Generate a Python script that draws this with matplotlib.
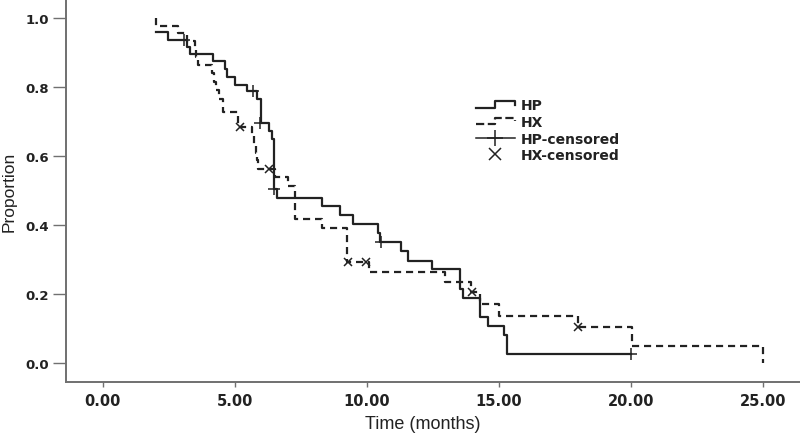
import numpy as np
import matplotlib
matplotlib.use('Agg')
import matplotlib.pyplot as plt
from matplotlib.lines import Line2D
from matplotlib.legend_handler import HandlerBase

# Kaplan-Meier steps (time in months, proportion after the step)
hp_time = [2.0, 2.47, 3.18, 3.3, 4.19, 4.63, 4.7, 5.02, 5.45, 5.83, 5.98, 6.3, 6.42, 6.5, 6.59,
           8.3, 8.99, 9.49, 10.44, 10.5, 11.29, 11.58, 12.46, 13.53, 13.65, 14.29, 14.6, 15.2, 15.3, 20.0]
hp_surv = [0.959, 0.936, 0.915, 0.896, 0.874, 0.852, 0.828, 0.806, 0.789, 0.765, 0.697, 0.673, 0.649, 0.504, 0.478,
           0.454, 0.429, 0.403, 0.378, 0.352, 0.324, 0.297, 0.272, 0.214, 0.188, 0.132, 0.106, 0.081, 0.026, 0.026]

hx_time = [2.0, 2.03, 2.86, 3.2, 3.5, 3.53, 3.6, 4.13, 4.22, 4.3, 4.4, 4.55, 5.13, 5.65, 5.72, 5.8, 5.86, 5.9,
           6.53, 7.0, 7.28, 8.3, 9.24, 10.08, 12.95, 13.95, 14.3, 15.0, 18.0, 20.04, 25.0]
hx_surv = [1.0, 0.978, 0.956, 0.934, 0.91, 0.887, 0.865, 0.84, 0.815, 0.79, 0.765, 0.727, 0.684, 0.66, 0.635, 0.61, 0.587, 0.562,
           0.538, 0.514, 0.417, 0.39, 0.294, 0.265, 0.236, 0.207, 0.171, 0.137, 0.103, 0.05, 0.0]

# censored observations
hp_cens_t = [3.08, 5.7, 5.96, 6.5, 10.54, 20.0]
hp_cens_s = [0.936, 0.789, 0.697, 0.504, 0.352, 0.026]
hx_cens_t = [5.2, 6.31, 9.3, 9.97, 13.98, 18.0]
hx_cens_s = [0.684, 0.562, 0.294, 0.294, 0.207, 0.103]

x_ticks = [0, 5, 10, 15, 20, 25]
y_ticks = [0.0, 0.2, 0.4, 0.6, 0.8, 1.0]

line_col = '#222222'
axis_col = '#707070'


class HandlerStep(HandlerBase):
    # legend glyph drawn as a little step, like SPSS does
    def create_artists(self, legend, orig_handle, xdescent, ydescent, width, height, fontsize, trans):
        x = np.array([0, 0.5, 0.5, 1.0, 1.0]) * width - xdescent
        y = np.array([0.15, 0.15, 0.85, 0.85, 0.45]) * height - ydescent
        l = Line2D(x, y, color=orig_handle.get_color(), linestyle=orig_handle.get_linestyle(),
                   linewidth=orig_handle.get_linewidth())
        l.set_transform(trans)
        return [l]


fig = plt.figure(figsize=(8.0, 4.39), dpi=100)
ax = fig.add_axes([66 / 800, 1 - 383.3 / 439, (800 - 66) / 800, 383.3 / 439])

hp_line, = ax.step(hp_time, hp_surv, where='post', color=line_col, lw=1.6, ls='-')
hx_line, = ax.step(hx_time, hx_surv, where='post', color=line_col, lw=1.6, ls=(0, (3.2, 2.2)))
hp_c, = ax.plot(hp_cens_t, hp_cens_s, ls='none', marker='+', ms=9, mew=1.1, color=line_col)
hx_c, = ax.plot(hx_cens_t, hx_cens_s, ls='none', marker='x', ms=6, mew=1.1, color=line_col)

ax.set_xlim(-1.39, 26.41)
ax.set_ylim(-0.056, 1.055)
ax.set_xticks(x_ticks)
ax.set_xticklabels(['{:.2f}'.format(v) for v in x_ticks])
ax.set_yticks(y_ticks)
ax.set_yticklabels(['{:.1f}'.format(v) for v in y_ticks])

for s in ['top', 'right']:
    ax.spines[s].set_visible(False)
for s in ['left', 'bottom']:
    ax.spines[s].set_color(axis_col)
    ax.spines[s].set_linewidth(1.4)

ax.tick_params(axis='x', length=3.8, width=1.0, color=axis_col, pad=4, labelsize=10.5, labelcolor='#222222')
ax.tick_params(axis='y', length=9.4, width=1.0, color=axis_col, pad=3, labelsize=9.5, labelcolor='#222222')
for lab in ax.get_xticklabels() + ax.get_yticklabels():
    lab.set_fontweight('bold')

narrow = ['Liberation Sans Narrow', 'Liberation Sans', 'DejaVu Sans']
ax.set_ylabel('Proportion', family=narrow, fontsize=12.5, color='#222222', labelpad=6)
ax.set_xlabel('Time (months)', family=narrow, fontsize=13, color='#222222', labelpad=8)
ax.xaxis.set_label_coords((423 - 66) / 734, -0.085)

handles = [hp_line, hx_line,
           Line2D([], [], color=line_col, lw=1.1, marker='+', ms=12, mew=1.1),
           Line2D([], [], color=line_col, lw=0, marker='x', ms=9, mew=1.1)]
leg = ax.legend(handles, ['HP', 'HX', 'HP-censored', 'HX-censored'],
                handler_map={hp_line: HandlerStep(), hx_line: HandlerStep()},
                loc='upper left', bbox_to_anchor=(476 / 800, 1 - 99 / 439), bbox_transform=fig.transFigure,
                frameon=False, borderpad=0, borderaxespad=0, handlelength=2.8, handletextpad=0.4,
                labelspacing=0.2, prop={'weight': 'bold', 'size': 10})
for t in leg.get_texts():
    t.set_color('#222222')

plt.savefig('out.png', dpi=100)
